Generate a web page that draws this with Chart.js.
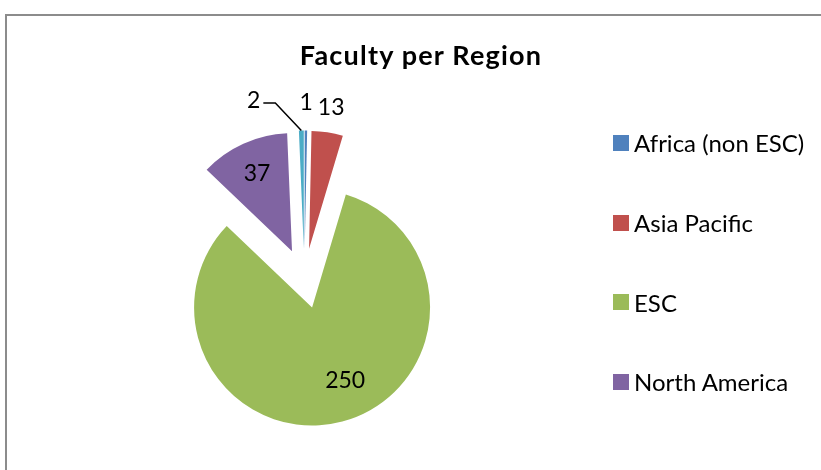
<!DOCTYPE html>
<html>
<head>
<meta charset="utf-8">
<script src="https://cdn.jsdelivr.net/npm/chart.js@4/dist/chart.umd.min.js"></script>
<style>
  html, body { margin: 0; padding: 0; width: 821px; height: 470px; overflow: hidden; background: #ffffff; }
  #frame { position: absolute; left: 5px; top: 14px; width: 1000px; height: 700px;
           border-left: 2px solid #8c8c8c; border-top: 2px solid #8c8c8c; box-sizing: border-box; }
  #c { position: absolute; left: 0; top: 0; }
  #title { position: absolute; left: 0; width: 842px; top: 40px; text-align: center;
           font-family: Lato, "DejaVu Sans", sans-serif; font-weight: bold; font-size: 27px;
           letter-spacing: 1.2px; line-height: 30px; color: #000; white-space: nowrap; }
  #legend { position: absolute; left: 613px; top: 103px; margin: 0; padding: 0; list-style: none; }
  #legend li { height: 79.7px; display: flex; align-items: center;
               font-family: Lato, "DejaVu Sans", sans-serif; font-size: 24px; color: #000; white-space: nowrap; }
  #legend .box { width: 16px; height: 16px; margin-right: 5px; flex: none; }
</style>
</head>
<body>
<div id="frame"></div>
<canvas id="c" width="821" height="470"></canvas>
<div id="title">Faculty per Region</div>
<ul id="legend"></ul>
<script>
// ---- data ----
const categories = ['Africa (non ESC)', 'Asia Pacific', 'ESC', 'North America', 'Other'];
const faculty = [1, 13, 250, 37, 2];
const legendShown = [true, true, true, true, false];

// ---- styles ----
const sliceColors = ['#4F81BD', '#C0504D', '#9BBB59', '#8064A2', '#4BACC6'];
const explodePx = 30;
const pieRadius = 118;
// label placement: fraction along the slice angle and radius factor from the slice vertex
const labelFrac = [0.5, 0.5, 0.468, 0.5, 0.5];
const labelRadius = [1.24, 1.21, 0.68, 0.72, 1.24];
const labelLeader = [false, false, false, false, true];

// legend (HTML, built from data)
const ul = document.getElementById('legend');
categories.forEach((name, i) => {
  if (!legendShown[i]) return;
  const li = document.createElement('li');
  const b = document.createElement('span');
  b.className = 'box';
  b.style.background = sliceColors[i];
  li.appendChild(b);
  li.appendChild(document.createTextNode(name));
  ul.appendChild(li);
});

const explodePlugin = {
  id: 'explode',
  beforeDatasetDraw(chart, args) {
    const ctx = chart.ctx;
    const meta = args.meta;
    meta.data.forEach((arc) => {
      const p = arc.getProps(['startAngle', 'endAngle'], true);
      const mid = (p.startAngle + p.endAngle) / 2;
      ctx.save();
      ctx.translate(Math.cos(mid) * explodePx, Math.sin(mid) * explodePx);
      arc.draw(ctx, chart.chartArea);
      ctx.restore();
    });
    return false;
  }
};

const labelPlugin = {
  id: 'sliceLabels',
  afterDatasetsDraw(chart) {
    const ctx = chart.ctx;
    const meta = chart.getDatasetMeta(0);
    const values = chart.data.datasets[0].data;
    ctx.save();
    ctx.font = '23px Lato, "DejaVu Sans", sans-serif';
    ctx.fillStyle = '#000';
    ctx.textBaseline = 'middle';
    meta.data.forEach((arc, i) => {
      const p = arc.getProps(['x', 'y', 'startAngle', 'endAngle', 'outerRadius'], true);
      const mid = (p.startAngle + p.endAngle) / 2;
      const vx = p.x + Math.cos(mid) * explodePx;
      const vy = p.y + Math.sin(mid) * explodePx;
      const text = String(values[i]);
      if (labelLeader[i]) {
        const ox = vx + Math.cos(mid) * p.outerRadius;
        const oy = vy + Math.sin(mid) * p.outerRadius;
        const ex = ox - 26, ey = oy - 27.5;
        const hx = ex - 12;
        ctx.strokeStyle = '#000';
        ctx.lineWidth = 1.5;
        ctx.beginPath();
        ctx.moveTo(ox, oy);
        ctx.lineTo(ex, ey);
        ctx.lineTo(hx, ey);
        ctx.stroke();
        ctx.textAlign = 'right';
        ctx.fillText(text, hx - 3, ey - 2);
      } else {
        const a = p.startAngle + (p.endAngle - p.startAngle) * labelFrac[i];
        const r = p.outerRadius * labelRadius[i];
        ctx.textAlign = 'center';
        ctx.fillText(text, vx + Math.cos(a) * r, vy + Math.sin(a) * r);
      }
    });
    ctx.restore();
  }
};

new Chart(document.getElementById('c'), {
  type: 'pie',
  data: {
    labels: categories,
    datasets: [{
      data: faculty,
      backgroundColor: sliceColors,
      borderWidth: 0,
      offset: 0
    }]
  },
  options: {
    responsive: false,
    animation: false,
    radius: pieRadius,
    layout: { padding: { left: 0, right: 212.2, top: 87, bottom: 0 } },
    plugins: {
      legend: { display: false },
      title: { display: false },
      tooltip: { enabled: false }
    }
  },
  plugins: [explodePlugin, labelPlugin]
});
</script>
</body>
</html>
